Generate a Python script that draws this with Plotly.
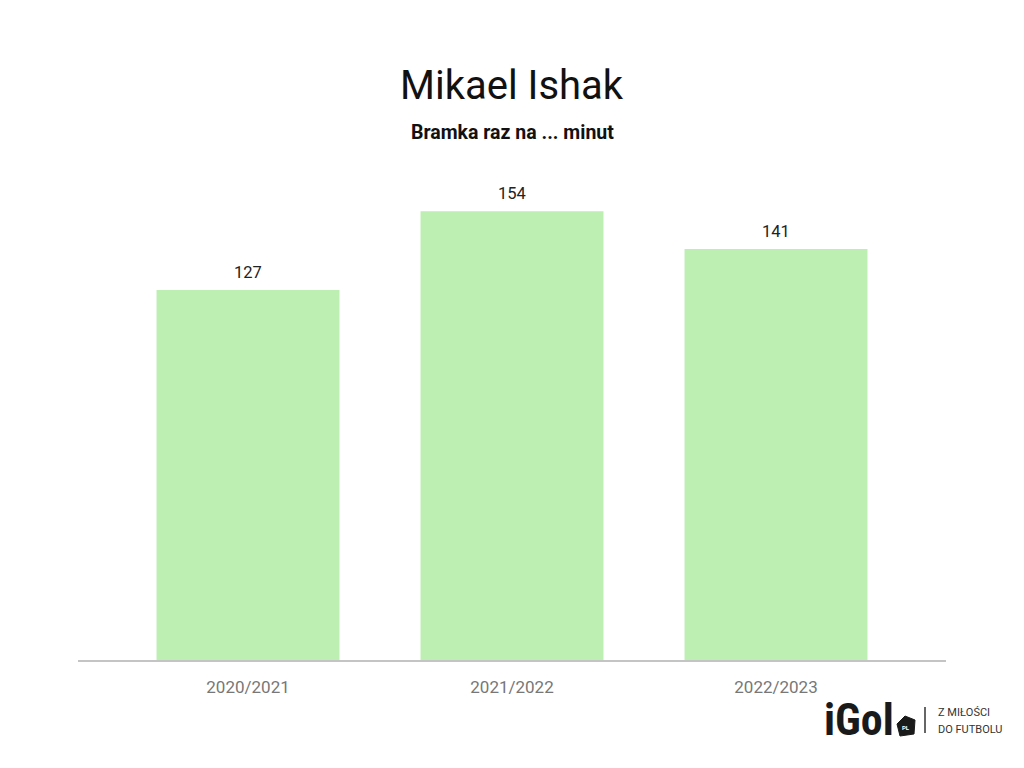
import plotly.graph_objects as go

seasons = ["2020/2021", "2021/2022", "2022/2023"]
minutes_per_goal = [127, 154, 141]

title_text = "Mikael Ishak"
subtitle_text = "Bramka raz na ... minut"

W, H = 1024, 768
L, R, T, B = 78, 78, 150, 108
PW, PH = W - L - R, H - T - B


def px(x):
    return (x - L) / PW


def py(y):
    return (H - y - B) / PH


fig = go.Figure()
fig.add_trace(go.Bar(
    x=seasons,
    y=minutes_per_goal,
    marker=dict(color="#bdeeb2", line=dict(width=0)),
    hoverinfo="skip",
))

for s, v in zip(seasons, minutes_per_goal):
    fig.add_annotation(x=s, y=v, xref="x", yref="y", text=str(v), showarrow=False,
                       xanchor="center", yanchor="bottom", yshift=6,
                       font=dict(family="Roboto", size=16.5, color="#222222"))

fig.update_layout(
    width=W, height=H,
    margin=dict(l=L, r=R, t=T, b=B),
    paper_bgcolor="white", plot_bgcolor="white",
    bargap=0.307,
    showlegend=False,
    font=dict(family="Roboto"),
    xaxis=dict(
        type="category",
        range=[-0.644, 2.644],
        showgrid=False,
        showline=True, linecolor="#c4c4c4", linewidth=2,
        ticks="", tickfont=dict(family="Roboto", size=17, color="#777777"),
        ticklabelstandoff=11,
    ),
    yaxis=dict(range=[0, 175], visible=False, showgrid=False, zeroline=False),
)

anns = [
    dict(text=title_text, x=512, y=85, xanchor="center",
         font=dict(family="Roboto", size=40, color="#111111")),
    dict(text="<b>" + subtitle_text + "</b>", x=512, y=133, xanchor="center",
         font=dict(family="Roboto", size=19.5, color="#111111")),
    dict(text="<b>iGol</b>", x=859, y=720, xanchor="center",
         font=dict(family="Roboto Condensed, Roboto", size=44, color="#1a1a1a")),
    dict(text="Z MIŁOŚCI", x=936, y=712, xanchor="left",
         font=dict(family="Roboto", size=11, color="#333333")),
    dict(text="DO FUTBOLU", x=936, y=729, xanchor="left",
         font=dict(family="Roboto", size=11, color="#333333")),
]
for a in anns:
    d = dict(xref="paper", yref="paper", showarrow=False, yanchor="middle")
    d.update(a)
    d["x"] = px(a["x"])
    d["y"] = py(a["y"])
    fig.add_annotation(**d)

# badge pentagon
pts = [(897, 724), (905, 716), (915, 720), (914, 734), (900, 736)]
path = "M " + " L ".join(f"{px(x)},{py(y)}" for x, y in pts) + " Z"
fig.add_shape(type="path", xref="paper", yref="paper", path=path,
              fillcolor="#1a1a1a", line=dict(color="#1a1a1a", width=1))
fig.add_annotation(text="<b>PL</b>", x=px(906), y=py(727), xref="paper", yref="paper",
                   showarrow=False, xanchor="center", yanchor="middle",
                   font=dict(family="Roboto", size=6, color="white"))

fig.add_shape(type="line", xref="paper", yref="paper",
              x0=px(925), x1=px(925), y0=py(707), y1=py(733),
              line=dict(color="#333333", width=1.5))

fig.write_html("out.html", config={"displayModeBar": False},
               post_script="document.body.style.margin='0';")
